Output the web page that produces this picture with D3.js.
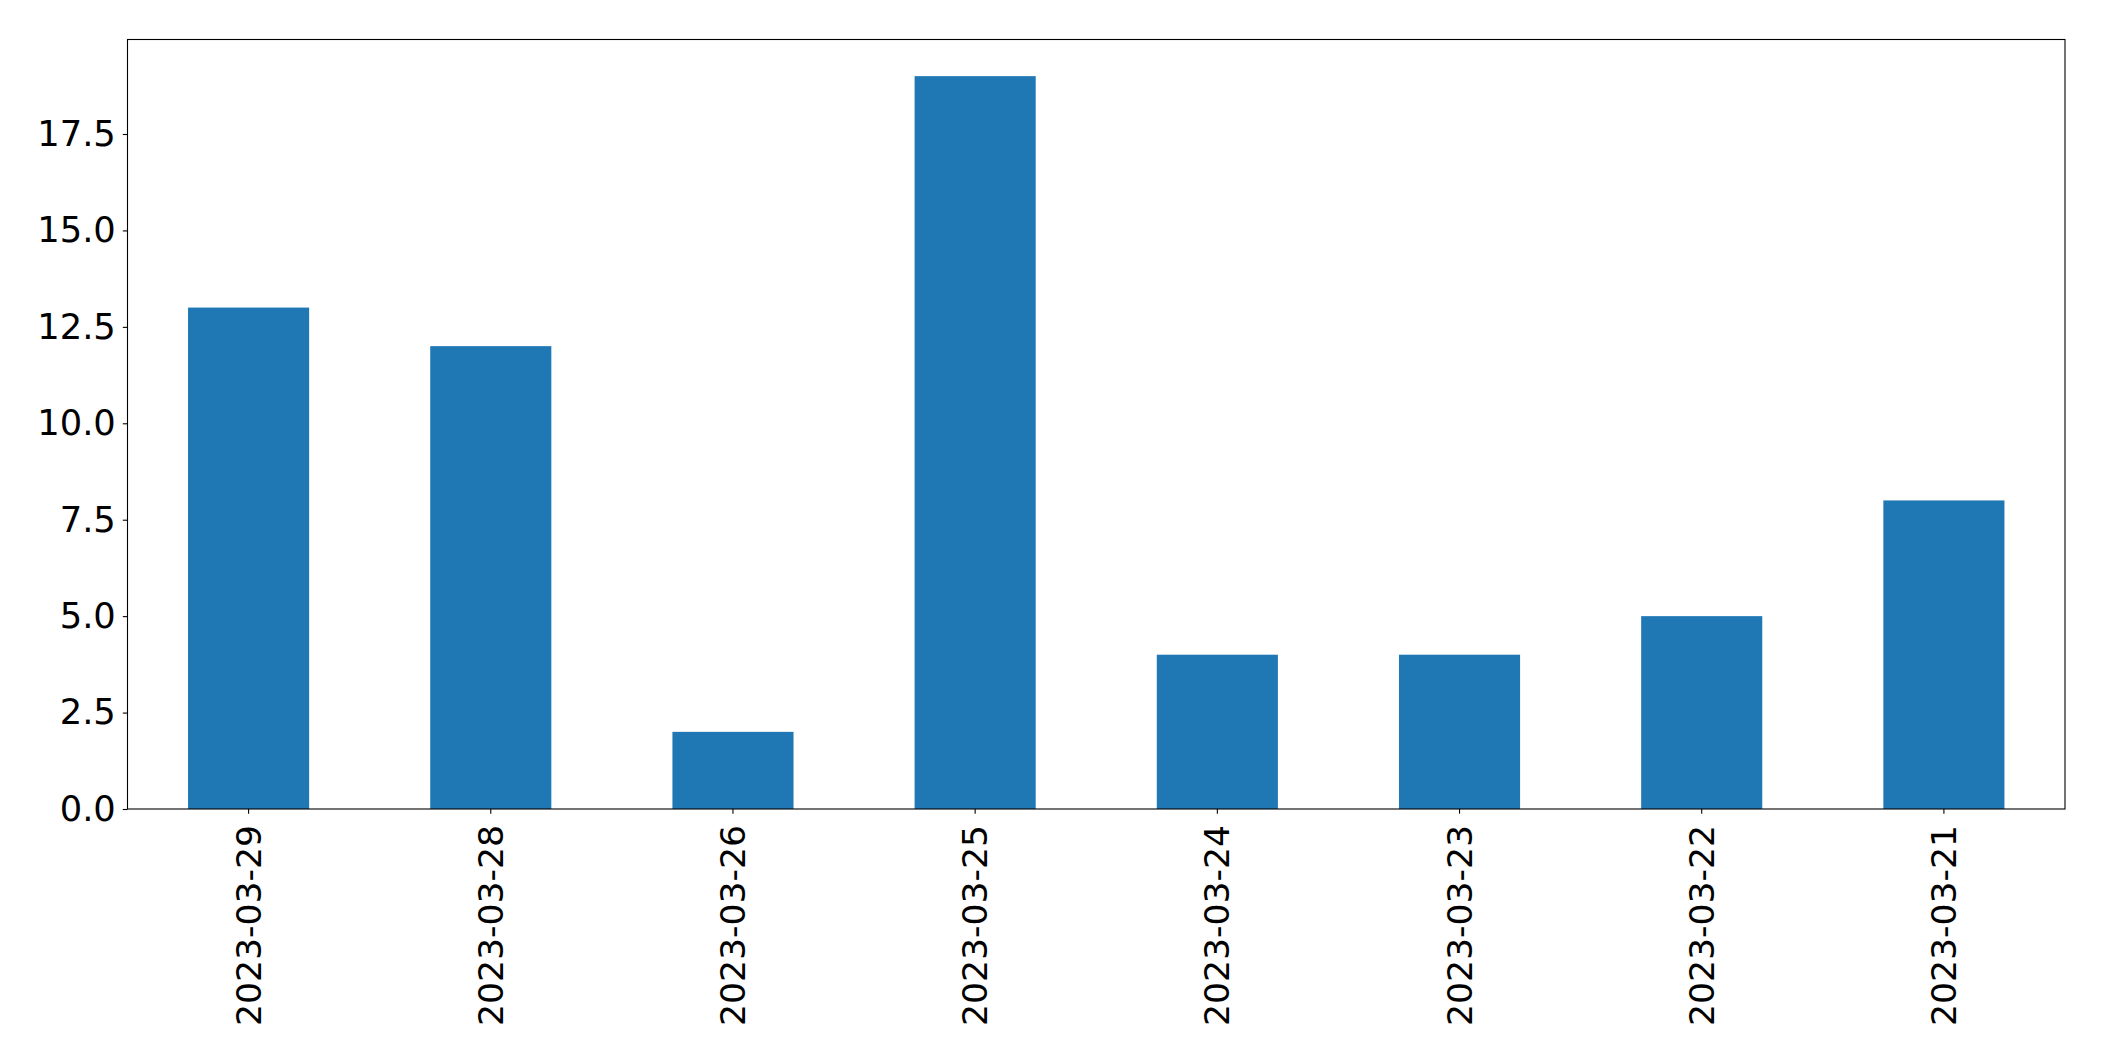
<!DOCTYPE html>
<html><head><meta charset="utf-8">
<script src="https://cdn.jsdelivr.net/npm/d3@7"></script>
<style>body{margin:0;background:#fff}svg{display:block}text{font-family:"DejaVu Sans",sans-serif}</style>
</head><body>
<script>
const categories = ["2023-03-29","2023-03-28","2023-03-26","2023-03-25","2023-03-24","2023-03-23","2023-03-22","2023-03-21"];
const values = [13,12,2,19,4,4,5,8];
const yTicks = [0,2.5,5,7.5,10,12.5,15,17.5];

const W=2104,H=1061;
const m={left:127.5,right:2065,top:39.5,bottom:809};
const svg=d3.select("body").append("svg").attr("width",W).attr("height",H);
const x=d3.scaleBand().domain(categories).range([m.left,m.right]).paddingInner(0.5).paddingOuter(0.25);
const yMax=d3.max(values)*1.05;
const y=d3.scaleLinear().domain([0,yMax]).range([m.bottom,m.top]);

svg.append("g").selectAll("rect").data(values).join("rect")
  .attr("x",(d,i)=>x(categories[i])).attr("width",x.bandwidth())
  .attr("y",d=>y(d)).attr("height",d=>y(0)-y(d)).attr("fill","#1f77b4");

const yAxis=svg.append("g").attr("transform",`translate(${m.left},0)`)
  .call(d3.axisLeft(y).tickValues(yTicks).tickFormat(d3.format(".1f")).tickSize(4.7).tickPadding(7));
yAxis.select(".domain").remove();
yAxis.selectAll("text").attr("font-size",35.3).attr("fill","#000").attr("font-family","DejaVu Sans");
yAxis.selectAll("line").attr("stroke","#000").attr("stroke-width",1.1);

const xAxis=svg.append("g").attr("transform",`translate(0,${m.bottom})`)
  .call(d3.axisBottom(x).tickSize(4.7).tickPadding(0));
xAxis.select(".domain").remove();
xAxis.selectAll("line").attr("stroke","#000").attr("stroke-width",1.1);
xAxis.selectAll("text").attr("font-size",34.6).attr("fill","#000").attr("font-family","DejaVu Sans")
  .attr("transform","rotate(-90)").attr("text-anchor","end").attr("dy","0.35em").attr("x",-16).attr("y",0);

svg.append("rect").attr("x",m.left).attr("y",m.top).attr("width",m.right-m.left).attr("height",m.bottom-m.top)
  .attr("fill","none").attr("stroke","#000").attr("stroke-width",1.1);
</script>
</body></html>
